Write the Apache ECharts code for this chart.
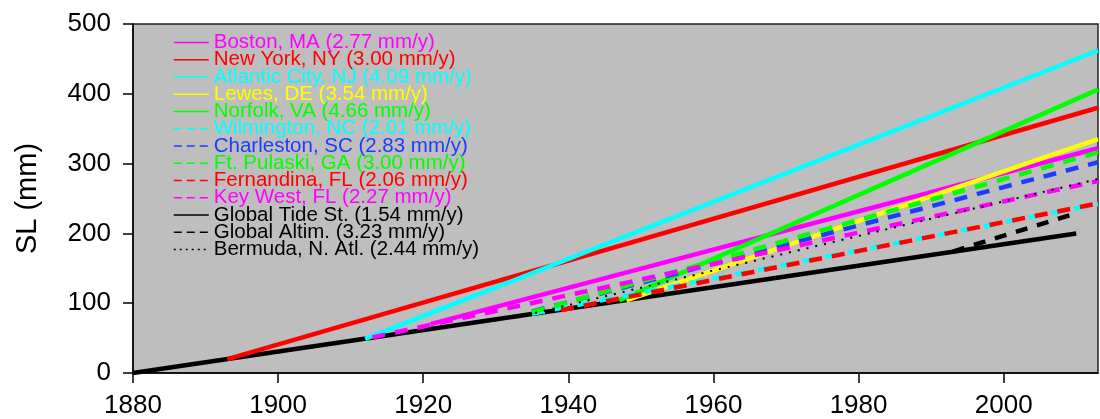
<!DOCTYPE html>
<html>
<head>
<meta charset="utf-8">
<script src="https://cdn.jsdelivr.net/npm/echarts@6/dist/echarts.min.js"></script>
<style>
  html, body { margin: 0; padding: 0; background: #fff; }
  #chartSL { width: 1100px; height: 419px; }
</style>
</head>
<body>
<div id="chartSL"></div>
<script>
// sea level trend lines
var names = [
	'Boston, MA (2.77 mm/y)',
	'New York, NY (3.00 mm/y)',
	'Atlantic City, NJ (4.09 mm/y)',
	'Lewes, DE (3.54 mm/y)',
	'Norfolk, VA (4.66 mm/y)',
	'Wilmington, NC (2.01 mm/y)',
	'Charleston, SC (2.83 mm/y)',
	'Ft. Pulaski, GA (3.00 mm/y)',
	'Fernandina, FL (2.06 mm/y)',
	'Key West, FL (2.27 mm/y)',
	'Global Tide St. (1.54 mm/y)',
	'Global Altim. (3.23 mm/y)',
	'Bermuda, N. Atl. (2.44 mm/y)'
];
var startYear = [1921, 1893, 1912, 1948, 1947, 1935, 1935, 1935, 1939, 1913, 1880, 1993, 1933];
var startSL   = [70, 20, 49, 104, 104, 85, 88, 87, 90, 51, 0, 174, 80];
var endYear   = [2013, 2013, 2013, 2013, 2013, 2013, 2013, 2013, 2013, 2013, 2010, 2010, 2013];
var endSL     = [322, 380, 462, 335, 406, 242, 302, 316, 243, 275, 200, 229, 278];

var colors = ['#ff00ff', '#ff0000', '#00ffff', '#ffff00', '#00ff00', '#00ffff', '#1e3cff',
              '#00ff00', '#ff0000', '#ff00ff', '#000000', '#000000', '#000000'];
var dashes = ['solid', 'solid', 'solid', 'solid', 'solid', [13, 10], [13, 10],
              [13, 10], [13, 10], [13, 10], 'solid', [12, 10], [2, 7]];
var widths = [4.5, 4.5, 4.5, 4.5, 4.5, 4.5, 4.5, 4.5, 4.5, 4.5, 4.5, 4.5, 2];
var legendDash = ['solid', 'solid', 'solid', 'solid', 'solid', [8, 5], [8, 5],
              [8, 5], [8, 5], [8, 5], 'solid', [8, 5], [2, 4]];

var series = [];
var legendData = [];
for (var i = 0; i < names.length; i++) {
	series.push({
		type: 'line',
		name: names[i],
		symbol: 'none',
		silent: true,
		z: names[i].indexOf('Global Tide') === 0 ? 1 : 2,
		lineStyle: { color: colors[i], width: widths[i], type: dashes[i] },
		itemStyle: { color: colors[i] },
		data: [[startYear[i], startSL[i]], [endYear[i], endSL[i]]]
	});
	legendData.push({
		name: names[i],
		textStyle: { color: colors[i] },
		lineStyle: { type: legendDash[i], width: 1.5 }
	});
}
// tide gauge mean goes underneath everything
series.sort(function (a, b) { return a.z - b.z; });

var chart_sl = echarts.init(document.getElementById('chartSL'));
chart_sl.setOption({
	animation: false,
	grid: {
		left: 133, right: 2, top: 24, bottom: 46,
		show: true,
		backgroundColor: '#bebebe',
		borderColor: '#222',
		borderWidth: 1.5
	},
	legend: {
		data: legendData,
		orient: 'vertical',
		left: 168,
		top: 27,
		itemWidth: 35,
		itemHeight: 10,
		itemGap: -3.75,
		itemStyle: { opacity: 0 },
		lineStyle: { width: 1.5 },
		textStyle: {
			fontFamily: 'Liberation Sans',
			fontSize: 20.5
		}
	},
	xAxis: {
		type: 'value',
		min: 1880,
		max: 2013,
		interval: 20,
		splitLine: { show: false },
		axisLine: { lineStyle: { color: '#000', width: 1.5 } },
		axisTick: { length: 10, lineStyle: { color: '#000', width: 1.5 } },
		axisLabel: {
			color: '#000',
			fontFamily: 'Liberation Sans',
			fontSize: 26,
			margin: 20,
			showMaxLabel: false,
			formatter: function (v) { return String(v); }
		}
	},
	yAxis: {
		type: 'value',
		min: 0,
		max: 500,
		interval: 100,
		name: 'SL (mm)',
		nameLocation: 'middle',
		nameGap: 91,
		nameTextStyle: { color: '#000', fontFamily: 'Liberation Sans', fontSize: 29 },
		splitLine: { show: false },
		axisLine: { show: true, lineStyle: { color: '#000', width: 1.5 } },
		axisTick: { show: true, length: 10, lineStyle: { color: '#000', width: 1.5 } },
		axisLabel: {
			color: '#000',
			fontFamily: 'Liberation Sans',
			fontSize: 26,
			margin: 22
		}
	},
	series: series
});
</script>
</body>
</html>
